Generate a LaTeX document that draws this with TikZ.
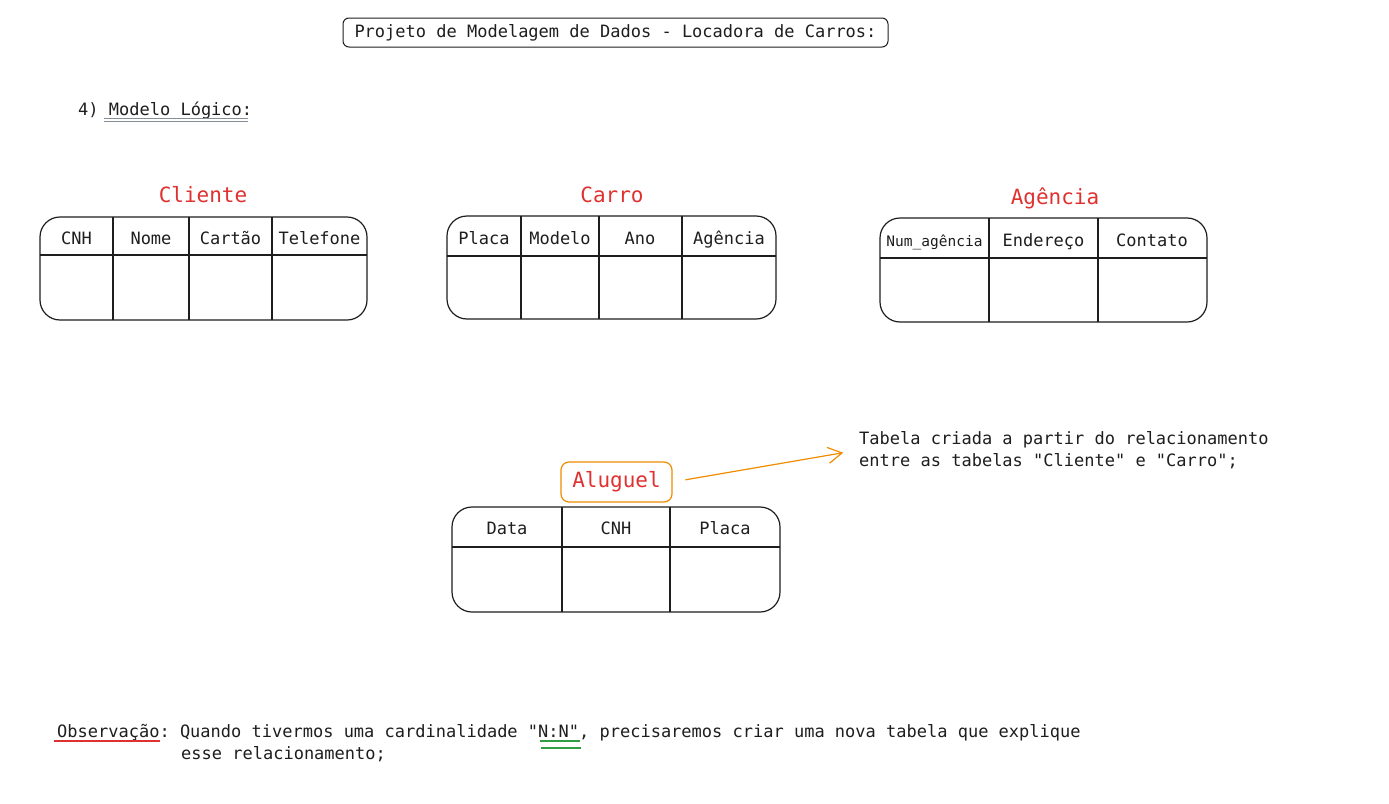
\documentclass[tikz,border=0pt]{standalone}
\usepackage{fontspec}
\setmonofont{DejaVu Sans Mono}
\usetikzlibrary{arrows.meta}

\definecolor{tinta}{HTML}{1E1E1E}
\definecolor{vermelho}{HTML}{E03131}
\definecolor{laranja}{HTML}{F08C00}
\definecolor{verde}{HTML}{2F9E44}
\definecolor{cinza}{HTML}{868E96}

\tikzset{
    texto/.style={font=\ttfamily\fontsize{17}{22}\selectfont, text=tinta, inner sep=0pt},
    titulo/.style={font=\ttfamily\fontsize{21}{24}\selectfont, text=vermelho, inner sep=0pt, anchor=base},
    cabeca/.style={texto, anchor=base},
    tabela/.style={draw=tinta, line width=1.2pt, rounded corners=20pt},
    linha/.style={draw=tinta, line width=1.2pt},
    seta/.style={draw=laranja, line width=1.2pt, -{Straight Barb[length=14pt, width=16pt]}}
}

\begin{document}
\begin{tikzpicture}[x=1pt, y=-1pt]
    \useasboundingbox[fill=white] (0,0) rectangle (1389,803);

    % cabecalho
    \node[texto, draw=tinta, line width=1pt, rounded corners=6pt,
          minimum width=545pt, minimum height=29pt] (projeto) at (615.5,32.5)
          {Projeto de Modelagem de Dados - Locadora de Carros:};
    \node[texto, anchor=base west] (secao) at (78,115) {4) Modelo Lógico:};
    \draw[cinza, line width=1pt] (104,118) -- (248,118);
    \draw[cinza, line width=1pt] (104,121) -- (248,121);

    % tabela Cliente
    \node[titulo] (tcliente) at (203,202) {Cliente};
    \draw[tabela] (40,217) rectangle (367,320);
    \draw[linha] (40,255) -- (367,255);
    \draw[linha] (113,217) -- (113,320);
    \draw[linha] (189,217) -- (189,320);
    \draw[linha] (272,217) -- (272,320);
    \node[cabeca] (ccnh) at (76.5,244) {CNH};
    \node[cabeca] (cnome) at (151,244) {Nome};
    \node[cabeca] (ccartao) at (230.5,244) {Cartão};
    \node[cabeca] (ctelefone) at (319.5,244) {Telefone};

    % tabela Carro
    \node[titulo] (tcarro) at (612,202) {Carro};
    \draw[tabela] (447,216) rectangle (776,319);
    \draw[linha] (447,256) -- (776,256);
    \draw[linha] (521,216) -- (521,319);
    \draw[linha] (599,216) -- (599,319);
    \draw[linha] (682,216) -- (682,319);
    \node[cabeca] (kplaca) at (484,244) {Placa};
    \node[cabeca] (kmodelo) at (560,244) {Modelo};
    \node[cabeca] (kano) at (640,244) {Ano};
    \node[cabeca] (kagencia) at (729,244) {Agência};

    % tabela Agencia
    \node[titulo] (tagencia) at (1055,204) {Agência};
    \draw[tabela] (880,218) rectangle (1207,322);
    \draw[linha] (880,258) -- (1207,258);
    \draw[linha] (989,218) -- (989,322);
    \draw[linha] (1098,218) -- (1098,322);
    \node[cabeca, font=\ttfamily\fontsize{14.5}{18}\selectfont] (anum) at (934.5,246) {Num\_agência};
    \node[cabeca] (aendereco) at (1043.5,246) {Endereço};
    \node[cabeca] (acontato) at (1152,246) {Contato};

    % tabela Aluguel
    \node[titulo, anchor=center, draw=laranja, line width=1.2pt, rounded corners=8pt,
          minimum width=111pt, minimum height=40pt] (aluguel) at (616.5,482) {Aluguel};
    \draw[tabela] (452,507) rectangle (780,612);
    \draw[linha] (452,547) -- (780,547);
    \draw[linha] (562,507) -- (562,612);
    \draw[linha] (670,507) -- (670,612);
    \node[cabeca] (ldata) at (507,534) {Data};
    \node[cabeca] (lcnh) at (616,534) {CNH};
    \node[cabeca] (lplaca) at (725,534) {Placa};

    % nota
    \node[texto, anchor=west, align=left] (nota) at (859,450)
          {Tabela criada a partir do relacionamento\\entre as tabelas "Cliente" e "Carro";};
    \draw[seta, shorten <=13pt, shorten >=16pt] (aluguel.east) -- (nota.west);

    % observacao
    \node[texto, anchor=base west] (obs) at (57,737)
          {Observação: Quando tivermos uma cardinalidade "N:N", precisaremos criar uma nova tabela que explique};
    \node[texto, anchor=base west] (obs2) at (181,759) {esse relacionamento;};
    \draw[vermelho, line width=1.2pt] (54,741) -- (160,741);
    \draw[verde, line width=1.2pt] (540,741) -- (580,741);
    \draw[verde, line width=1.2pt] (541,748) -- (581,748);
\end{tikzpicture}
\end{document}
